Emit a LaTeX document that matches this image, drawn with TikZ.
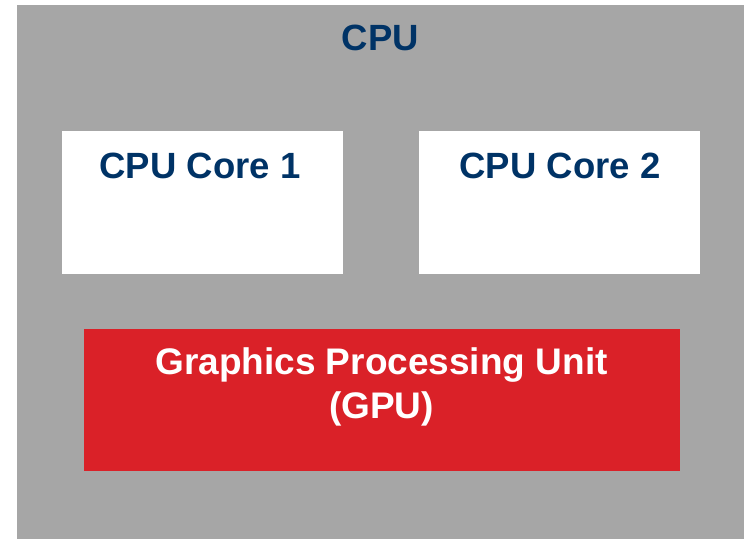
\documentclass[tikz,border=0pt]{standalone}
\usepackage{fontspec}
\setmainfont{Liberation Sans}
\definecolor{cpugray}{HTML}{A6A6A6}
\definecolor{gpured}{HTML}{DA2128}
\definecolor{navy}{HTML}{003366}
\begin{document}
\begin{tikzpicture}[x=1pt,y=-1pt,
  box/.style={draw=none,inner sep=0pt,outer sep=0pt,anchor=north west},
  lbl/.style={font=\fontsize{36.5}{44}\selectfont\bfseries,inner sep=0pt,anchor=base,align=center}]
\useasboundingbox (0,0) rectangle (744,539);
\node[box,fill=cpugray,minimum width=727pt,minimum height=534pt] (cpu) at (17,5) {};
\node[box,fill=white,minimum width=281pt,minimum height=143pt] (core1) at (62,131) {};
\node[box,fill=white,minimum width=281pt,minimum height=143pt] (core2) at (419,131) {};
\node[box,fill=gpured,minimum width=596pt,minimum height=142pt] (gpu) at (84,329) {};
\node[lbl,text=navy] (cputxt) at (380.5,50) {CPU};
\node[lbl,text=navy] (core1txt) at (200,178) {CPU Core 1};
\node[lbl,text=navy] (core2txt) at (560,178) {CPU Core 2};
\node[lbl,text=white,font=\fontsize{37}{44}\selectfont\bfseries] (gputxt1) at (381.5,374) {Graphics Processing Unit};
\node[lbl,text=white,font=\fontsize{37}{44}\selectfont\bfseries] (gputxt2) at (381.5,418) {(GPU)};
\end{tikzpicture}
\end{document}
